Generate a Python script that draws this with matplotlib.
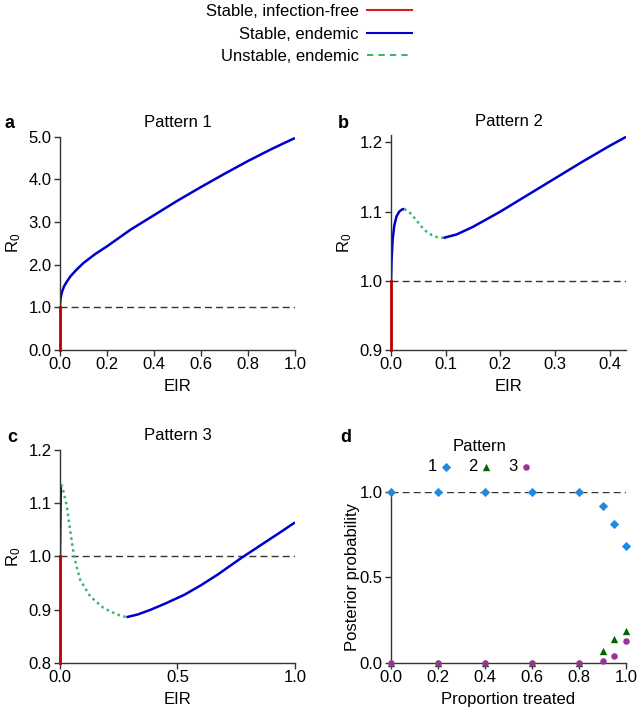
import matplotlib

matplotlib.use("Agg")
import matplotlib.pyplot as plt
from matplotlib.lines import Line2D

plt.rcParams["font.family"] = ["Liberation Sans", "DejaVu Sans"]
plt.rcParams["mathtext.default"] = "regular"
plt.rcParams["font.size"] = 12

# Pattern 1
p1_eir = [0, 0.001, 0.003, 0.008, 0.017, 0.03, 0.045, 0.07, 0.1, 0.15, 0.2, 0.3, 0.4, 0.5, 0.6, 0.7, 0.8, 0.9, 1.0]
p1_r0 = [1.0, 1.12, 1.22, 1.35, 1.49, 1.61, 1.73, 1.88, 2.04, 2.25, 2.43, 2.82, 3.16, 3.5, 3.82, 4.13, 4.43, 4.71, 4.97]

# Pattern 2
p2_stable1_eir = [0, 0.001, 0.003, 0.006, 0.01, 0.015, 0.02, 0.0245]
p2_stable1_r0 = [1.0, 1.03, 1.06, 1.08, 1.093, 1.1, 1.103, 1.104]
p2_unstable_eir = [0.0245, 0.035, 0.045, 0.055, 0.065, 0.075, 0.085, 0.096]
p2_unstable_r0 = [1.104, 1.098, 1.089, 1.079, 1.071, 1.066, 1.063, 1.062]
p2_stable2_eir = [0.096, 0.12, 0.15, 0.2, 0.25, 0.3, 0.35, 0.4, 0.43]
p2_stable2_r0 = [1.062, 1.067, 1.078, 1.1, 1.124, 1.148, 1.172, 1.195, 1.208]

# Pattern 3
p3_stable1_eir = [0, 0.002, 0.004]
p3_stable1_r0 = [1.0, 1.07, 1.135]
p3_unstable_eir = [0.004, 0.01, 0.02, 0.029, 0.043, 0.06, 0.086, 0.129, 0.186, 0.243, 0.283]
p3_unstable_r0 = [1.135, 1.131, 1.112, 1.094, 1.05, 1.0, 0.956, 0.925, 0.903, 0.891, 0.886]
p3_stable2_eir = [0.283, 0.33, 0.386, 0.45, 0.529, 0.6, 0.671, 0.771, 0.85, 0.943, 1.0]
p3_stable2_r0 = [0.886, 0.891, 0.90, 0.912, 0.928, 0.946, 0.966, 0.997, 1.02, 1.047, 1.064]

# Panel d: posterior probability of each pattern
treated = [0, 0.2, 0.4, 0.6, 0.8, 0.9, 0.95, 1.0]
post_1 = [1, 1, 1, 1, 1, 0.92, 0.815, 0.686]
post_2 = [0, 0, 0, 0, 0, 0.072, 0.14, 0.187]
post_3 = [0, 0, 0, 0, 0, 0.014, 0.043, 0.127]

RED = "#c00000"
BLUE = "#0000cc"
GREEN = "#3cb371"
AXIS = "#333333"
UNSTABLE_DOTS = (0, (1, 1.4))


def style_axes(ax):
    for side in ("top", "right"):
        ax.spines[side].set_visible(False)
    for side in ("left", "bottom"):
        ax.spines[side].set_color(AXIS)
        ax.spines[side].set_linewidth(1.0)
    ax.tick_params(direction="out", length=4, width=1, color=AXIS, labelsize=12)
    ax.tick_params(axis="x", pad=1)
    ax.tick_params(axis="y", pad=2)


def r0_panel(ax, title, xlim, ylim, xticks, yticks, segments):
    ax.axhline(1.0, color=AXIS, lw=1, ls=(0, (5, 3)), zorder=1)
    ax.plot([0, 0], [ylim[0], 1.0], color=RED, lw=2, zorder=3, clip_on=False)
    for xs, ys, kind in segments:
        if kind == "stable":
            ax.plot(xs, ys, color=BLUE, lw=1.8, zorder=2, solid_capstyle="butt")
        else:
            ax.plot(xs, ys, color=GREEN, lw=1.8, ls=UNSTABLE_DOTS, zorder=2)
    ax.set_xlim(*xlim)
    ax.set_ylim(*ylim)
    ax.set_xticks(xticks, labels=["%.1f" % v for v in xticks])
    ax.set_yticks(yticks, labels=["%.1f" % v for v in yticks])
    ax.set_xlabel("EIR", labelpad=5)
    ax.set_ylabel("R$_0$", labelpad=4)
    ax.set_title(title, fontsize=12, pad=7)
    style_axes(ax)


fig = plt.figure(figsize=(6.38, 7.18), dpi=100)
ax_a = fig.add_axes([0.094, 0.5125, 0.3683, 0.2971])
ax_b = fig.add_axes([0.6129, 0.5125, 0.3683, 0.2988])
ax_c = fig.add_axes([0.094, 0.0766, 0.3683, 0.2967])
ax_d = fig.add_axes([0.6129, 0.0766, 0.3683, 0.2382])

r0_panel(ax_a, "Pattern 1", (0, 1), (0, 5), [0, 0.2, 0.4, 0.6, 0.8, 1.0], [0, 1, 2, 3, 4, 5],
         [(p1_eir, p1_r0, "stable")])
r0_panel(ax_b, "Pattern 2", (0, 0.43), (0.9, 1.21), [0, 0.1, 0.2, 0.3, 0.4], [0.9, 1.0, 1.1, 1.2],
         [(p2_stable1_eir, p2_stable1_r0, "stable"),
          (p2_unstable_eir, p2_unstable_r0, "unstable"),
          (p2_stable2_eir, p2_stable2_r0, "stable")])
r0_panel(ax_c, "Pattern 3", (0, 1), (0.8, 1.2), [0, 0.5, 1.0], [0.8, 0.9, 1.0, 1.1, 1.2],
         [(p3_stable1_eir, p3_stable1_r0, "stable"),
          (p3_unstable_eir, p3_unstable_r0, "unstable"),
          (p3_stable2_eir, p3_stable2_r0, "stable")])

# panel d
ax_d.plot([0, 1], [1, 1], color=AXIS, lw=1, ls=(0, (5, 3)), zorder=1)
h1 = ax_d.scatter(treated, post_1, marker="D", s=22, color="#1e88e5", zorder=3, clip_on=False, linewidths=0)
h2 = ax_d.scatter(treated, post_2, marker="^", s=28, color="#006400", zorder=3, clip_on=False, linewidths=0)
h3 = ax_d.scatter(treated, post_3, marker="o", s=22, color="#993399", zorder=4, clip_on=False, linewidths=0)
ax_d.set_xlim(0, 1)
ax_d.set_ylim(0, 1)
ax_d.set_xticks([0, 0.2, 0.4, 0.6, 0.8, 1.0], labels=["0.0", "0.2", "0.4", "0.6", "0.8", "1.0"])
ax_d.set_yticks([0, 0.5, 1.0], labels=["0.0", "0.5", "1.0"])
ax_d.set_xlabel("Proportion treated", labelpad=5)
ax_d.set_ylabel("Posterior probability", labelpad=0)
style_axes(ax_d)
ax_d.legend([h1, h2, h3], ["1", "2", "3"], title="Pattern", ncol=3, frameon=False,
            markerfirst=False, handlelength=0.6, handletextpad=0.2, columnspacing=1.05,
            loc="lower left", bbox_to_anchor=(0.157, 1.105), fontsize=12, title_fontsize=12,
            borderaxespad=0, borderpad=0, labelspacing=0.3)

# panel letters
for letter, (px, py) in zip("abcd", [(5, 123), (338, 123), (7, 437), (340, 437)]):
    fig.text(px / 638, 1 - py / 718, letter, fontsize=13, fontweight="bold", ha="left", va="center")

# figure legend on top
handles = [
    Line2D([], [], color="#d42020", lw=1.5),
    Line2D([], [], color=BLUE, lw=1.5),
    Line2D([], [], color=GREEN, lw=1.5, ls=(0, (3, 2.5))),
]
fig.legend(handles, ["Stable, infection-free", "Stable, endemic", "Unstable, endemic"],
           loc="upper right", bbox_to_anchor=(0.6525, 1.0), frameon=False, markerfirst=False,
           fontsize=12, handlelength=2.7, handletextpad=0.5, labelspacing=0.45,
           borderaxespad=0, borderpad=0.25)

fig.savefig("out.png", dpi=100)
